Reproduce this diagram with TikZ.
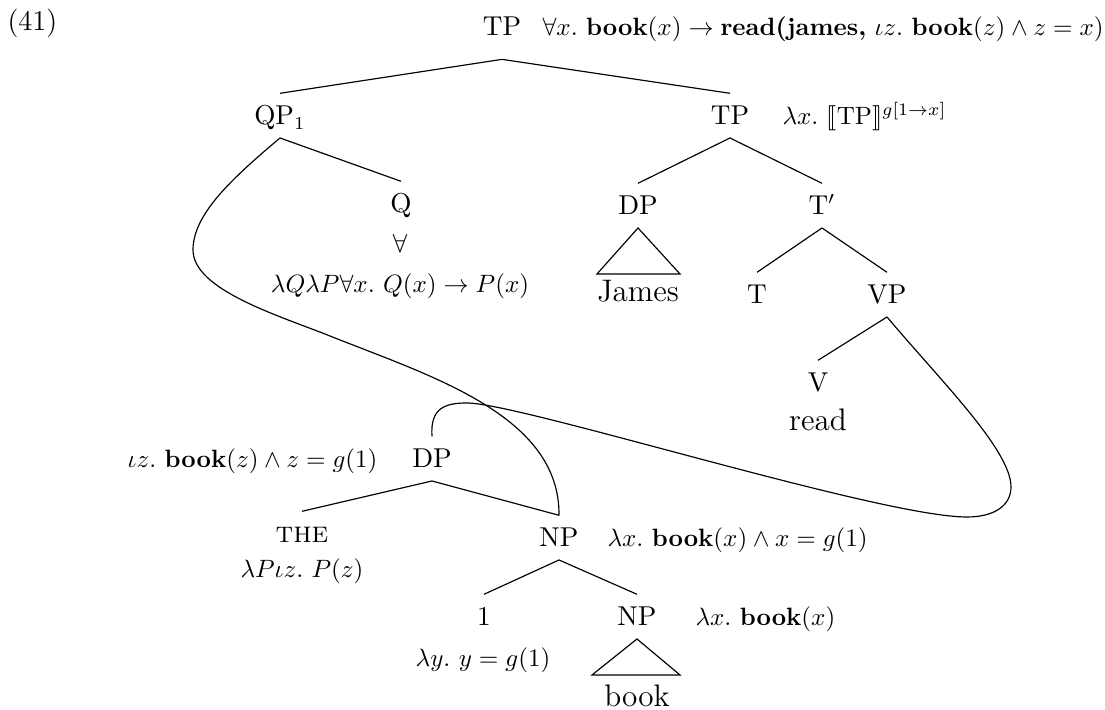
\documentclass[tikz,border=0pt]{standalone}
\usepackage{amsmath}
\usepackage{stmaryrd}
\newcommand{\semtxt}[1]{\scalebox{0.965}{#1}}
\begin{document}
\begin{tikzpicture}[x=0.385pt,y=-0.385pt,
  cat/.style={inner sep=0pt, outer sep=0pt, outer ysep=5pt, text height=7.2pt, text depth=0pt, anchor=base, font=\fontsize{10.5pt}{12.5pt}\selectfont},
  leaf/.style={inner sep=0pt, anchor=base, font=\fontsize{12pt}{14pt}\selectfont},
  sem/.style={inner sep=0pt, anchor=base},
  semw/.style={sem, anchor=base west},
  seme/.style={sem, anchor=base east},
  br/.style={line width=0.45pt},
  mv/.style={line width=0.45pt}]
\useasboundingbox (0,0) rectangle (1105,710);

\node[inner sep=0pt, anchor=base west, font=\fontsize{11pt}{13pt}\selectfont] (ex) at (7,31) {(41)};

% top part
\node[cat, text depth=4pt] (tp0) at (502,36) {TP};
\node[semw] (tp0l) at (542,36) {\semtxt{$\forall x.\ \textbf{book}(x)\rightarrow\textbf{read(james,}\ \iota z.\ \textbf{book}(z)\wedge z=x)$}};

\node[cat] (qp1) at (280,125) {QP$_1$};
\node[cat] (tp1) at (730,125) {TP};
\node[semw] (tp1l) at (782,125) {\semtxt{$\lambda x.\ \llbracket\mathrm{TP}\rrbracket^{g[1\rightarrow x]}$}};

\node[cat] (q) at (401,213) {Q};
\node[sem] (qall) at (400,253) {$\forall$};
\node[sem] (qsem) at (400,293) {\semtxt{$\lambda Q\lambda P\forall x.\ Q(x)\rightarrow P(x)$}};

\node[cat] (dp1) at (638,215) {DP};
\node[leaf] (james) at (638,302) {James};
\node[cat] (tbar) at (822,215) {T$'$};
\node[cat] (t) at (757,304) {T};
\node[cat] (vp) at (887,304) {VP};
\node[cat] (v) at (818,392) {V};
\node[leaf] (read) at (818,431) {read};

% lower part
\node[cat] (dp2) at (432,468) {DP};
\node[seme] (dp2l) at (378,468) {\semtxt{$\iota z.\ \textbf{book}(z)\wedge z=g(1)$}};
\node[cat, font=\fontsize{11.5pt}{14pt}\selectfont] (the) at (302,543) {\textsc{the}};
\node[sem] (thesem) at (302,578) {\semtxt{$\lambda P\iota z.\ P(z)$}};
\node[cat] (np1) at (559,547) {NP};
\node[semw] (np1l) at (607,547) {\semtxt{$\lambda x.\ \textbf{book}(x)\wedge x=g(1)$}};
\node[cat] (one) at (484,626) {1};
\node[sem] (onesem) at (483,667) {\semtxt{$\lambda y.\ y=g(1)$}};
\node[cat] (np2) at (637,626) {NP};
\node[semw] (np2l) at (695,626) {\semtxt{$\lambda x.\ \textbf{book}(x)$}};
\node[leaf] (book) at (637,707) {book};

% branches
\draw[br] (tp0.south) -- (qp1.north);
\draw[br] (tp0.south) -- (tp1.north);
\draw[br] (qp1.south) -- (q.north);
\draw[br] (tp1.south) -- (dp1.north);
\draw[br] (tp1.south) -- (tbar.north);
\draw[br] (tbar.south) -- (t.north);
\draw[br] (tbar.south) -- (vp.north);
\draw[br] (vp.south) -- (v.north);
\draw[br] (dp2.south) -- (the.north);
\draw[br] (dp2.south) -- (np1.north);
\draw[br] (np1.south) -- (one.north);
\draw[br] (np1.south) -- (np2.north);

% triangles
\coordinate (jl) at (597,274);
\coordinate (jr) at (680,274);
\draw[br] (dp1.south) -- (jl) -- (jr) -- cycle;
\coordinate (bl) at (592,675);
\coordinate (bR) at (680,675);
\draw[br] (np2.south) -- (bl) -- (bR) -- cycle;

% movement curves
\draw[mv] (qp1.south) .. controls (230,180) and (193,215) .. (193,250)
  .. controls (193,290) and (280,316) .. (330,336)
  .. controls (430,376) and (560,415) .. (np1.north);
\draw[mv] (dp2.north) .. controls (430,408) and (445,403) .. (467,403)
  .. controls (520,403) and (880,517) .. (967,517)
  .. controls (995,517) and (1011,505) .. (1011,487)
  .. controls (1011,450) and (940,380) .. (vp.south);
\end{tikzpicture}
\end{document}
